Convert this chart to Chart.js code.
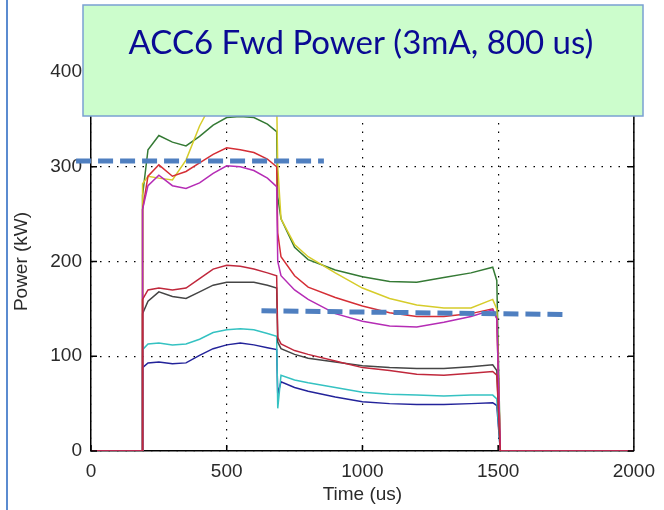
<!DOCTYPE html>
<html>
<head>
<meta charset="utf-8">
<script src="https://cdn.jsdelivr.net/npm/chart.js@4.4.1/dist/chart.umd.min.js"></script>
<style>
  html, body { margin: 0; padding: 0; background: #fff; }
  #wrap { width: 664px; height: 510px; }
</style>
</head>
<body>
<div id="wrap"><canvas id="chart"></canvas></div>
<script>
// time axis (us) shared by all traces
const times = [0, 188, 190, 210, 250, 300, 350, 400, 450, 500, 550, 600, 650, 684, 688, 700, 750, 800, 900, 1000, 1100, 1200, 1300, 1400, 1480, 1495, 1508, 2000];

// forward power per cavity (kW)
const green   = [0, 0, 270, 318, 333, 326, 322, 332, 344, 352, 353, 352, 345, 337, 268, 245, 215, 202, 191, 184, 179, 178, 183, 188, 194, 180, 0, 0];
const yellow  = [0, 0, 282, 290, 288, 286, 307, 343, 370, 382, 386, 385, 378, 370, 300, 245, 218, 205, 188, 172, 161, 154, 151, 151, 160, 150, 0, 0];
const redHi   = [0, 0, 255, 290, 302, 290, 295, 304, 313, 320, 318, 315, 308, 300, 230, 205, 185, 173, 162, 153, 146, 142, 142, 145, 150, 140, 0, 0];
const magenta = [0, 0, 255, 280, 291, 280, 277, 283, 293, 301, 300, 296, 288, 279, 200, 185, 170, 160, 145, 137, 132, 131, 136, 142, 149, 140, 0, 0];
const redLo   = [0, 0, 160, 170, 172, 170, 172, 182, 192, 196, 195, 192, 188, 185, 120, 113, 106, 102, 95, 88, 85, 81, 80, 82, 84, 80, 0, 0];
const gray    = [0, 0, 145, 158, 168, 163, 161, 168, 175, 178, 178, 178, 175, 172, 115, 108, 102, 98, 94, 90, 88, 87, 87, 89, 91, 85, 0, 0];
const cyan    = [0, 0, 107, 113, 114, 112, 113, 118, 125, 128, 129, 128, 124, 121, 45, 80, 75, 72, 67, 62, 60, 59, 58, 59, 59, 55, 0, 0];
const blue    = [0, 0, 88, 93, 94, 92, 93, 101, 108, 112, 114, 112, 109, 107, 60, 73, 67, 63, 57, 52, 50, 49, 49, 50, 51, 48, 0, 0];

// dashed reference lines drawn over the plot
const refHiX = [-55, 858];
const refHiY = [306, 306];
const refLoX = [628, 1737];
const refLoY = [148, 144];

const xTicks = [0, 500, 1000, 1500, 2000];
const yTicks = [0, 100, 200, 300, 400];
const titleText = 'ACC6 Fwd Power (3mA, 800 us)';

const traces = [
  {data: redLo, color: '#c0283c'},
  {data: magenta, color: '#b52cb5'},
  {data: redHi, color: '#d52f36'},
  {data: gray, color: '#454545'},
  {data: cyan, color: '#35c2c2'},
  {data: blue, color: '#23239a'},
  {data: yellow, color: '#d6cc2a'},
  {data: green, color: '#357a35'}
];

const pts = (xs, ys) => xs.map((x, i) => ({x: x, y: ys[i]}));

const datasets = [
  {data: pts(refHiX, refHiY), borderColor: '#4f7fc0', borderWidth: 5, borderDash: [15, 7], clip: false},
  {data: pts(refLoX, refLoY), borderColor: '#4f7fc0', borderWidth: 5, borderDash: [15, 7], clip: false}
].concat(traces.map(t => ({
  data: pts(times, t.data),
  borderColor: t.color,
  borderWidth: 1.5
})));

const frame = {
  id: 'frame',
  afterDraw(chart) {
    const ctx = chart.ctx;
    const a = chart.chartArea;
    const xs = chart.scales.x, ys = chart.scales.y;
    ctx.save();
    ctx.strokeStyle = '#000';
    ctx.lineWidth = 1.5;
    ctx.beginPath();
    ctx.moveTo(a.right, a.top);
    ctx.lineTo(a.right, a.bottom);
    ctx.moveTo(a.left, a.top);
    ctx.lineTo(a.right, a.top);
    // inward tick marks
    xTicks.forEach(v => {
      const px = xs.getPixelForValue(v);
      ctx.moveTo(px, a.bottom); ctx.lineTo(px, a.bottom - 6);
      ctx.moveTo(px, a.top); ctx.lineTo(px, a.top + 6);
    });
    yTicks.forEach(v => {
      const py = ys.getPixelForValue(v);
      ctx.moveTo(a.left, py); ctx.lineTo(a.left + 6, py);
      ctx.moveTo(a.right, py); ctx.lineTo(a.right - 6, py);
    });
    ctx.stroke();

    // slide frame edge on the left
    ctx.strokeStyle = '#5b8bd0';
    ctx.lineWidth = 2;
    ctx.beginPath();
    ctx.moveTo(7, 0); ctx.lineTo(7, chart.height);
    ctx.stroke();

    // title box
    ctx.fillStyle = '#ccfdcc';
    ctx.fillRect(83, 5, 560, 111);
    ctx.strokeStyle = '#7aa0d2';
    ctx.lineWidth = 1.5;
    ctx.strokeRect(83, 5, 560, 111);
    ctx.fillStyle = '#0a0a94';
    ctx.font = '33px Lato';
    ctx.textAlign = 'center';
    ctx.textBaseline = 'middle';
    ctx.fillText(titleText, 361, 43);
    ctx.restore();
  }
};

const tickFont = {family: 'Liberation Sans', size: 19};

new Chart(document.getElementById('chart'), {
  type: 'line',
  data: {datasets: datasets},
  options: {
    responsive: true,
    maintainAspectRatio: false,
    animation: false,
    events: [],
    layout: {padding: {top: 72, right: 25, left: 0, bottom: 0}},
    elements: {point: {radius: 0}, line: {tension: 0}},
    plugins: {legend: {display: false}, tooltip: {enabled: false}},
    scales: {
      x: {
        type: 'linear',
        min: 0, max: 2000,
        afterFit: s => { s.height = 59; },
        afterBuildTicks: s => { s.ticks = xTicks.map(v => ({value: v})); },
        grid: {color: '#000', lineWidth: 1.2, drawTicks: false},
        border: {display: true, color: '#000', width: 1.5, dash: [1.5, 7]},
        ticks: {color: '#2a2a2a', padding: 9, maxRotation: 0, font: tickFont, callback: v => String(v)},
        title: {display: true, text: 'Time (us)', color: '#2a2a2a', padding: {bottom: 4}, font: tickFont}
      },
      y: {
        min: 0, max: 400,
        afterFit: s => { s.width = 91; },
        afterBuildTicks: s => { s.ticks = yTicks.map(v => ({value: v})); },
        grid: {color: '#000', lineWidth: 1.2, drawTicks: false},
        border: {display: true, color: '#000', width: 1.5, dash: [1.5, 7]},
        ticks: {color: '#2a2a2a', padding: 9, font: tickFont, callback: v => String(v)},
        title: {display: true, text: 'Power (kW)', color: '#2a2a2a', padding: {top: 10}, font: tickFont}
      }
    }
  },
  plugins: [frame]
});
</script>
</body>
</html>
